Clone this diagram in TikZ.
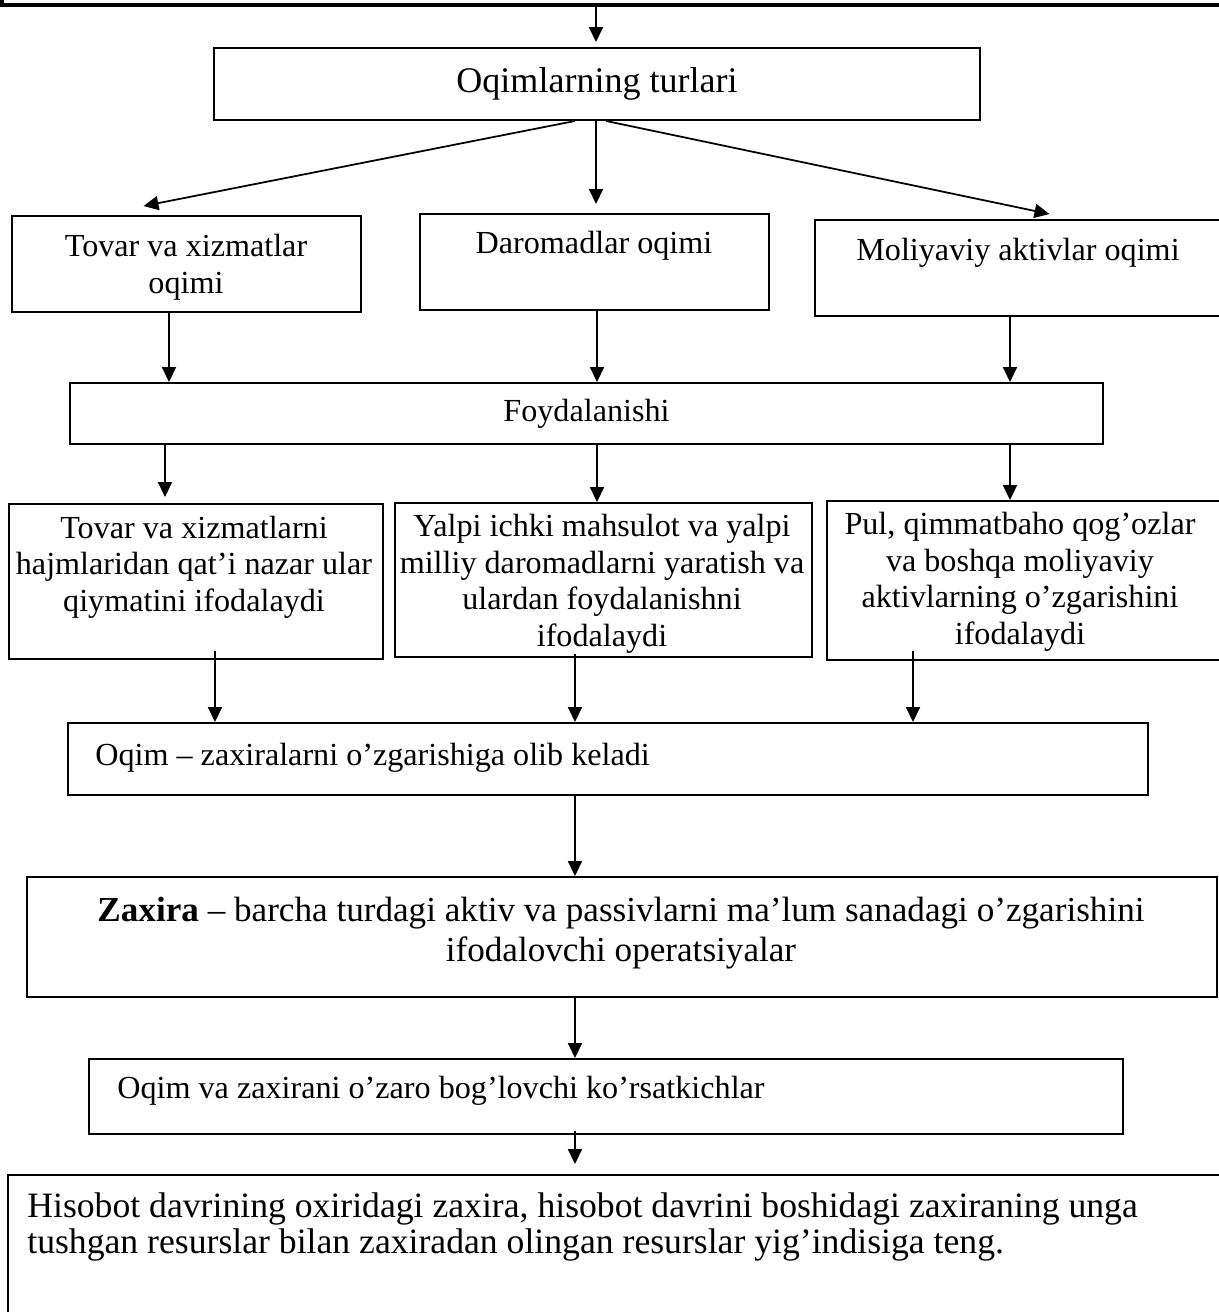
\documentclass[tikz,border=0pt]{standalone}
\usepackage{fontspec}
\setmainfont{Liberation Serif}
\usetikzlibrary{arrows.meta,calc}
\newcommand{\px}{0.02cm}
\tikzset{
  box/.style={draw,line width=1.1pt,inner sep=0pt},
  arr/.style={line width=1pt,-{Triangle[length=0.3cm,width=0.28cm]}},
  txt/.style={font=\fontsize{18.3}{20.8}\selectfont,inner sep=0pt,align=center}
}

\begin{document}
\begin{tikzpicture}[x=0.02cm,y=-0.02cm]
    \useasboundingbox (0,0) rectangle (1218,1312);
    % boxes
    \node[box,line width=2pt,minimum width=1228*\px,minimum height=60*\px] (top) at (616,-25) {};
    \node[box,txt,font=\fontsize{20.5}{23}\selectfont,minimum width=766*\px,minimum height=72*\px] (tur) at (597,84) {Oqimlarning turlari};
    \node[box,minimum width=349*\px,minimum height=96*\px] (tovar) at (186.5,264) {};
    \node[box,minimum width=349*\px,minimum height=96*\px] (darom) at (594.5,262) {};
    \node[box,minimum width=415*\px,minimum height=96*\px] (moliya) at (1022.5,268) {};
    \node[box,txt,minimum width=1033*\px,minimum height=61*\px] (foy) at (586.5,413.5) {Foydalanishi};
    \node[box,minimum width=374*\px,minimum height=155*\px] (ta1) at (196,581.5) {};
    \node[box,minimum width=417*\px,minimum height=154*\px] (ta2) at (603.5,580) {};
    \node[box,minimum width=403*\px,minimum height=159*\px] (ta3) at (1028.5,580.5) {};
    \node[box,minimum width=1080*\px,minimum height=72*\px] (oqim) at (608,759) {};
    \node[box,minimum width=1190*\px,minimum height=120*\px] (zax) at (622,937) {};
    \node[box,minimum width=1034*\px,minimum height=75*\px] (kor) at (606,1096.5) {};
    \node[box,minimum width=1222*\px,minimum height=165*\px] (his) at (619,1257.5) {};
    % texts
    \node[txt] (tovarT) at (186,267) {Tovar va xizmatlar\\oqimi};
    \node[txt] (daromT) at (594,246) {Daromadlar oqimi};
    \node[txt] (moliyaT) at (1018,253) {Moliyaviy aktivlar oqimi};
    \node[txt] (ta1T) at (194,567) {Tovar va xizmatlarni\\hajmlaridan qat’i nazar ular\\qiymatini ifodalaydi};
    \node[txt] (ta2T) at (602,584) {Yalpi ichki mahsulot va yalpi\\milliy daromadlarni yaratish va\\ulardan foydalanishni\\ifodalaydi};
    \node[txt] (ta3T) at (1020,582) {Pul, qimmatbaho qog’ozlar\\va boshqa moliyaviy\\aktivlarning o’zgarishini\\ifodalaydi};
    \node[txt,anchor=west] (oqimT) at (95,758) {Oqim – zaxiralarni o’zgarishiga olib keladi};
    \node[txt,font=\fontsize{20}{22.8}\selectfont] (zaxT) at (621,933) {\textbf{Zaxira} – barcha turdagi aktiv va passivlarni ma’lum sanadagi o’zgarishini\\ifodalovchi operatsiyalar};
    \node[txt,anchor=west] (korT) at (117,1091) {Oqim va zaxirani o’zaro bog’lovchi ko’rsatkichlar};
    \node[txt,font=\fontsize{20.3}{21}\selectfont,anchor=west,align=left] (hisT) at (27,1227) {Hisobot davrining oxiridagi zaxira, hisobot davrini boshidagi zaxiraning unga\\tushgan resurslar bilan zaxiradan olingan resurslar yig’indisiga teng.};
    % arrow columns
    \coordinate (c0) at (596,0);
    \coordinate (c1) at (169,0);
    \coordinate (c2) at (597,0);
    \coordinate (c3) at (1010,0);
    \coordinate (d1) at (165,0);
    \coordinate (e1) at (215,0);
    \coordinate (e2) at (575,0);
    \coordinate (e3) at (913,0);
    % arrows
    \draw[arr] (top.south -| c0) -- ($(tur.north -| c0)+(0,-5)$);
    \draw[arr] ($(tur.south)+(-22,0)$) -- ($(tovar.north)+(-43,-9)$);
    \draw[arr] (tur.south -| c0) -- ($(darom.north -| c0)+(0,-9)$);
    \draw[arr] ($(tur.south)+(9,0)$) -- ($(moliya.north)+(27,-5)$);
    \draw[arr] (tovar.south -| c1) -- (foy.north -| c1);
    \draw[arr] (darom.south -| c2) -- (foy.north -| c2);
    \draw[arr] (moliya.south -| c3) -- (foy.north -| c3);
    \draw[arr] (foy.south -| d1) -- ($(ta1.north -| d1)+(0,-6)$);
    \draw[arr] (foy.south -| c2) -- (ta2.north -| c2);
    \draw[arr] (foy.south -| c3) -- (ta3.north -| c3);
    \draw[arr] ($(ta1.south -| e1)+(0,-9)$) -- (oqim.north -| e1);
    \draw[arr] ($(ta2.south -| e2)+(0,-4)$) -- (oqim.north -| e2);
    \draw[arr] ($(ta3.south -| e3)+(0,-10)$) -- (oqim.north -| e3);
    \draw[arr] (oqim.south -| e2) -- (zax.north -| e2);
    \draw[arr] (zax.south -| e2) -- (kor.north -| e2);
    \draw[arr] ($(kor.south -| e2)+(0,-4)$) -- ($(his.north -| e2)+(0,-10)$);
\end{tikzpicture}
\end{document}
